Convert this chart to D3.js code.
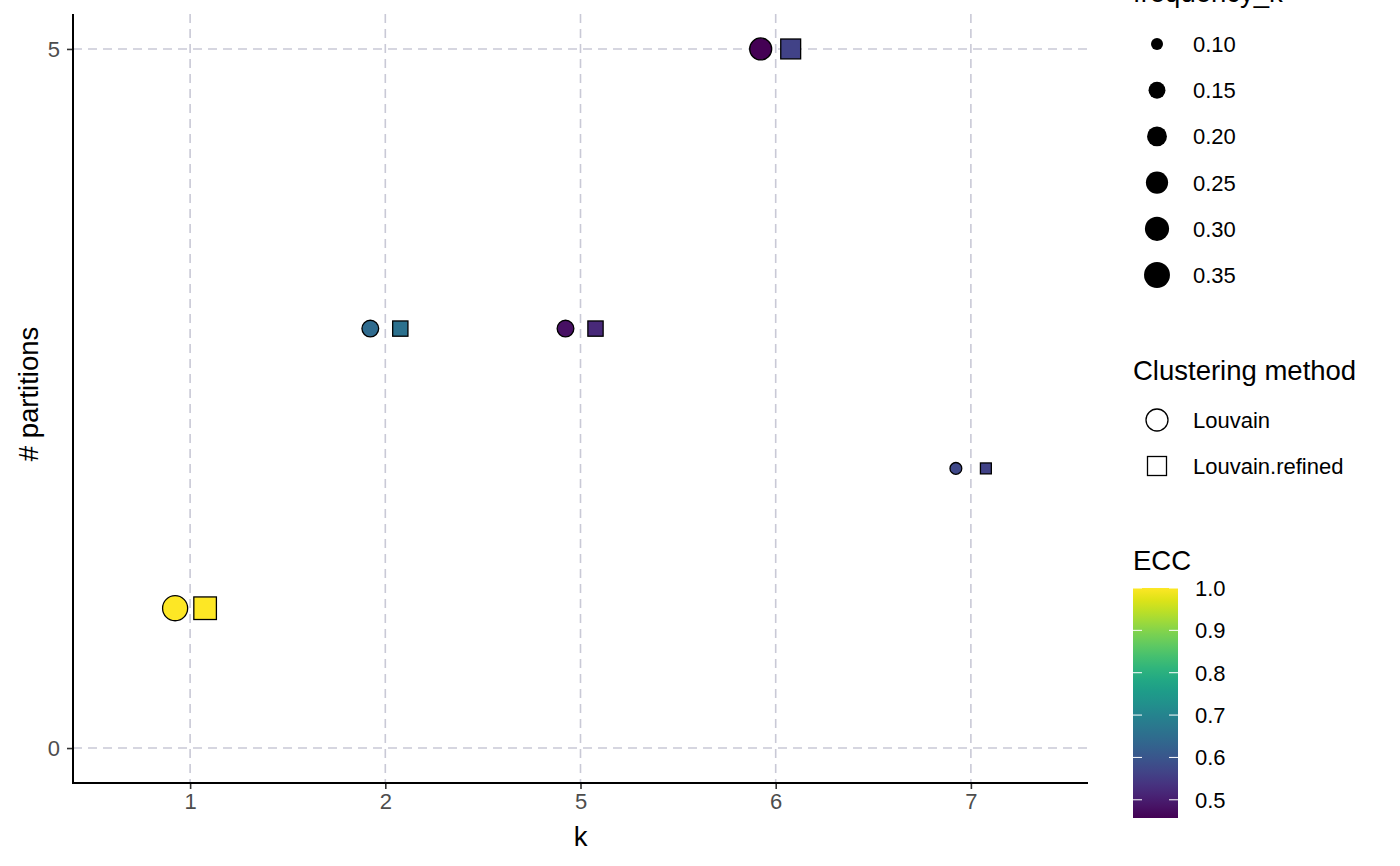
<!DOCTYPE html>
<html><head><meta charset="utf-8">
<script src="https://cdn.jsdelivr.net/npm/d3@7"></script>
<style>body{margin:0;background:#fff;} svg{font-family:"Liberation Sans",Arial,sans-serif;}</style>
</head><body><svg id="c" width="1400" height="866"></svg>
<script>
const categories = ["1","2","5","6","7"];
const methods = ["Louvain","Louvain.refined"];
const nPartitions = [1,3,3,5,2];
const freqK = [0.33,0.15,0.15,0.25,0.10];
const eccLouvain = [1.0,0.645,0.48,0.457,0.575];
const eccRefined = [1.0,0.66,0.52,0.565,0.565];
const yTicks = [0,5];
const sizeBreaks = [0.10,0.15,0.20,0.25,0.30,0.35];
const eccTicks = [0.5,0.6,0.7,0.8,0.9,1.0];

const svg = d3.select("#c");
const L=73,R=1088,T=14,B=783;
const unit=(R-L)/(categories.length-1+1.2);
const x = d3.scalePoint().domain(categories).range([L+0.6*unit, R-0.6*unit]).padding(0);
const y = d3.scaleLinear().domain([-0.25,5.25]).range([B,T]);
const color = d3.scaleSequential(d3.interpolateViridis).domain([0.457,1.0]);
const diam = v => 9 + 34*Math.sqrt(Math.max(0,v-0.09));
const dodge = 15;
const LBL = "22px", TTL = "27.5px";

// grid
const grid = svg.append("g").attr("stroke","#c9c9d6").attr("stroke-width",1.6).attr("stroke-dasharray","9,6");
categories.forEach(c=>grid.append("line").attr("x1",x(c)).attr("x2",x(c)).attr("y1",T).attr("y2",B));
yTicks.forEach(t=>grid.append("line").attr("x1",L).attr("x2",R).attr("y1",y(t)).attr("y2",y(t)));

// axes
const xa = svg.append("g").attr("transform",`translate(0,${B})`).call(d3.axisBottom(x).tickSize(6).tickPadding(4));
const ya = svg.append("g").attr("transform",`translate(${L},0)`).call(d3.axisLeft(y).tickValues(yTicks).tickFormat(d3.format("d")).tickSize(6).tickPadding(7));
[xa,ya].forEach(a=>{
  a.select(".domain").remove();
  a.selectAll(".tick line").attr("stroke","#333").attr("stroke-width",1.6);
  a.selectAll(".tick text").attr("fill","#4d4d4d").style("font-size",LBL).style("font-family","Liberation Sans, Arial, sans-serif");
});
ya.selectAll(".tick text").attr("dy","0.36em");
svg.append("path").attr("d",`M${L},${T}V${B}H${R}`).attr("fill","none").attr("stroke","#000").attr("stroke-width",2);

// axis titles
svg.append("text").attr("x",(L+R)/2).attr("y",846).attr("text-anchor","middle").style("font-size",TTL).text("k");
svg.append("text").attr("transform",`translate(38,394) rotate(-90)`).attr("text-anchor","middle").style("font-size",TTL).text("# partitions");

// points
const pts = svg.append("g").attr("stroke","#000").attr("stroke-width",1.3);
categories.forEach((c,i)=>{
  const d = diam(freqK[i]);
  pts.append("circle").attr("cx",x(c)-dodge).attr("cy",y(nPartitions[i])).attr("r",d/2-0.3).attr("fill",color(eccLouvain[i]));
  const s = d*0.88;
  pts.append("rect").attr("x",x(c)+dodge-s/2).attr("y",y(nPartitions[i])-s/2).attr("width",s).attr("height",s).attr("fill",color(eccRefined[i]));
});

// legend: frequency_k
const lg = svg.append("g");
lg.append("text").attr("x",1133).attr("y",2).style("font-size",TTL).text("frequency_k");
sizeBreaks.forEach((b,i)=>{
  const cy = 44 + i*46.2;
  lg.append("circle").attr("cx",1157).attr("cy",cy).attr("r",diam(b)/2-0.2).attr("fill","#000");
  lg.append("text").attr("x",1193).attr("y",cy+8).style("font-size",LBL).text(b.toFixed(2));
});

// legend: clustering method
lg.append("text").attr("x",1133).attr("y",380).style("font-size",TTL).text("Clustering method");
lg.append("circle").attr("cx",1157).attr("cy",420).attr("r",11).attr("fill","none").attr("stroke","#000").attr("stroke-width",1.3);
lg.append("rect").attr("x",1157-9.5).attr("y",466-9.5).attr("width",19).attr("height",19).attr("fill","none").attr("stroke","#000").attr("stroke-width",1.3);
lg.append("text").attr("x",1193).attr("y",428).style("font-size",LBL).text(methods[0]);
lg.append("text").attr("x",1193).attr("y",474).style("font-size",LBL).text(methods[1]);

// legend: ECC colorbar
lg.append("text").attr("x",1133).attr("y",570).style("font-size",TTL).text("ECC");
const barTop=588, barBot=818, bx=1133, bw=45;
const cy = d3.scaleLinear().domain([0.457,1.0]).range([barBot,barTop]);
const defs = svg.append("defs");
const grad = defs.append("linearGradient").attr("id","g").attr("x1",0).attr("x2",0).attr("y1",1).attr("y2",0);
d3.range(0,1.001,0.05).forEach(t=>grad.append("stop").attr("offset",t).attr("stop-color",d3.interpolateViridis(t)));
lg.append("rect").attr("x",bx).attr("y",barTop).attr("width",bw).attr("height",barBot-barTop).attr("fill","url(#g)");
eccTicks.forEach(t=>{
  const yy = cy(t);
  lg.append("line").attr("x1",bx).attr("x2",bx+9).attr("y1",yy).attr("y2",yy).attr("stroke","#fff").attr("stroke-width",1);
  lg.append("line").attr("x1",bx+bw-9).attr("x2",bx+bw).attr("y1",yy).attr("y2",yy).attr("stroke","#fff").attr("stroke-width",1);
  lg.append("text").attr("x",1195).attr("y",yy+8).style("font-size",LBL).text(t.toFixed(1));
});
</script></body></html>
